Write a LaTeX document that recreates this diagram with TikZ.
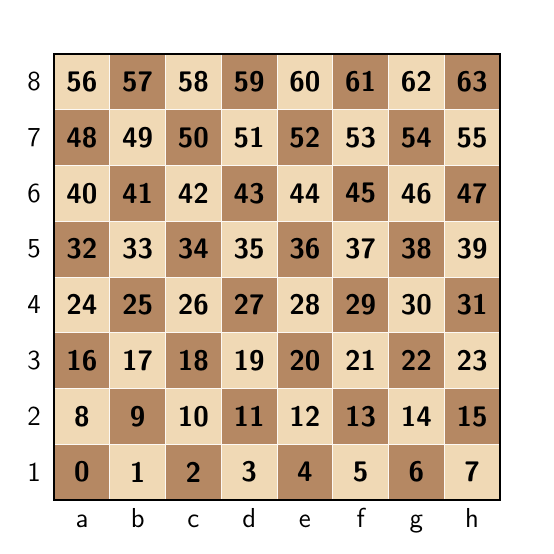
\documentclass[tikz,border=0pt]{standalone}
\usepackage{tikz}
\usepackage{xcolor}
\definecolor{lightsq}{HTML}{F0D9B5}
\definecolor{darksq}{HTML}{B58863}
\tikzstyle{square}=[minimum size=1cm,inner sep=0pt,draw=white!85!lightsq,line width=0.4pt,
  font=\sffamily\bfseries\Large]
\tikzstyle{coordlabel}=[font=\sffamily\fontsize{14}{17}\selectfont]
\def\nsq{8}
\def\marg{0.97}

\begin{document}
\begin{tikzpicture}
      \useasboundingbox (-\marg,-\marg) rectangle (\nsq+\marg,\nsq+\marg);
      
      % SQUARES
      \foreach \r in {0,...,7}{
        \foreach \f in {0,...,7}{
          \pgfmathtruncatemacro{\idx}{8*\r+\f}
          \pgfmathtruncatemacro{\parity}{mod(\r+\f,2)}
          \ifnum\parity=0 \def\sqcol{darksq}\else \def\sqcol{lightsq}\fi
          \node[square,fill=\sqcol] (sq\idx) at (\f+0.5,\r+0.5) {\idx};
        }
      }
      \draw[line width=0.9pt] (sq0.south west) rectangle (sq63.north east);
      
      % LABELS
      \foreach \f [count=\i from 0] in {a,b,c,d,e,f,g,h}
        \node[coordlabel,anchor=base] (file\f) at (\i+0.5,-0.49) {\f};
      \foreach \r in {1,...,8}
        \node[coordlabel] (rank\r) at (-0.36,\r-0.5) {\r};
      
\end{tikzpicture}
\end{document}
